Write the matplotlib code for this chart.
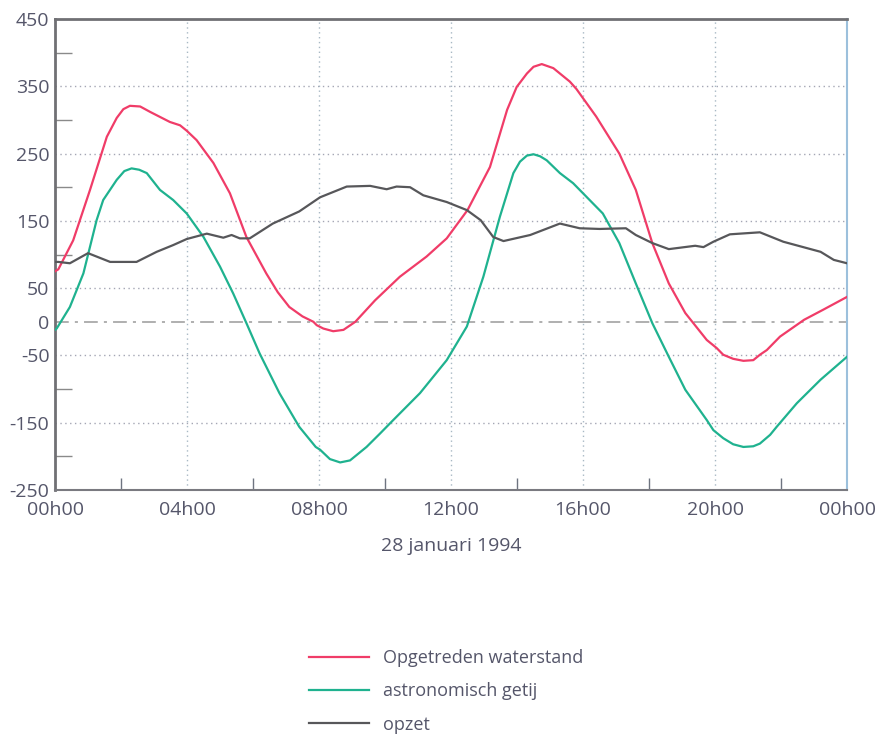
import numpy as np
import matplotlib.pyplot as plt
from matplotlib.lines import Line2D
from matplotlib.ticker import FixedLocator

plt.rcParams['font.family'] = ['Open Sans', 'DejaVu Sans']
plt.rcParams['axes.unicode_minus'] = False

# uren na middernacht, 28 januari 1994
uur_waterstand = [0.0, 0.1, 0.55, 1.06, 1.57, 1.87, 2.07, 2.27, 2.58, 2.88, 3.08, 3.48, 3.79,
                  3.99, 4.29, 4.8, 5.3, 5.8, 6.4, 6.75, 7.1, 7.5, 7.83, 7.93, 8.13, 8.43, 8.74,
                  9.1, 9.7, 10.45, 11.26, 11.87, 12.5, 13.18, 13.7, 13.99, 14.3, 14.5, 14.75,
                  15.1, 15.3, 15.6, 15.8, 16.4, 17.1, 17.6, 18.1, 18.6, 19.1, 19.75, 20.05,
                  20.25, 20.55, 20.86, 21.16, 21.36, 21.57, 21.97, 22.7, 23.28, 24.0]
waterstand = [75, 78, 121, 196, 275, 303, 316, 321, 320, 312, 307, 297, 292,
              284, 270, 236, 191, 126, 72, 44, 22, 8, 0, -5, -10, -14, -12,
              0, 32, 67, 97, 124, 166, 230, 315, 349, 369, 379, 383,
              377, 369, 357, 346, 305, 250, 196, 117, 57, 13, -27, -39,
              -49, -55, -58, -57, -49, -42, -22, 3, 18, 37]

uur_getij = [0.0, 0.05, 0.45, 0.86, 1.26, 1.46, 1.87, 2.1, 2.32, 2.55, 2.78, 3.18, 3.58,
             3.99, 4.5, 5.0, 5.4, 5.8, 6.2, 6.8, 7.4, 7.9, 8.03, 8.33, 8.64, 8.94, 9.44,
             9.85, 10.25, 11.06, 11.87, 12.48, 12.98, 13.48, 13.89, 14.09, 14.3, 14.5,
             14.7, 14.9, 15.3, 15.7, 16.6, 17.1, 17.6, 18.1, 18.6, 19.1, 19.75, 19.95,
             20.25, 20.55, 20.86, 21.16, 21.36, 21.67, 21.87, 22.48, 23.2, 24.0]
getij = [-12, -10, 22, 72, 151, 181, 211, 224, 228, 226, 221, 196, 181,
         161, 126, 82, 42, -2, -47, -106, -156, -186, -190, -204, -209, -206, -186,
         -166, -146, -106, -57, -7, 67, 156, 221, 238, 247, 249,
         246, 240, 221, 206, 161, 117, 57, -2, -52, -101, -146, -161,
         -173, -182, -186, -185, -181, -168, -156, -121, -86, -52]

uur_opzet = [0.0, 0.1, 0.45, 1.0, 1.67, 2.47, 3.08, 3.58, 3.99, 4.6, 5.1, 5.35, 5.6, 5.9,
             6.6, 7.4, 8.03, 8.84, 9.55, 10.05, 10.35, 10.76, 11.16, 11.87, 12.48, 12.9,
             13.28, 13.59, 14.4, 15.3, 15.9, 16.5, 17.3, 17.6, 18.1, 18.6, 19.4, 19.65,
             19.95, 20.45, 21.36, 22.07, 23.2, 23.6, 24.0]
opzet = [89, 89, 87, 102, 89, 89, 104, 114, 123, 131, 125, 129, 124, 124,
         146, 164, 185, 201, 202, 197, 201, 200, 188, 178, 166, 151,
         126, 120, 129, 146, 139, 138, 139, 129, 117, 108, 113, 111,
         119, 130, 133, 119, 104, 92, 87]

xtick_pos = [0, 4, 8, 12, 16, 20, 24]
xtick_labels = ['00h00', '04h00', '08h00', '12h00', '16h00', '20h00', '00h00']
ytick_pos = [-250, -150, -50, 0, 50, 150, 250, 350, 450]
ytick_minor = [-200, -100, 100, 200, 300, 400]

kleur_tekst = '#55566a'
kleur_rood = '#f03c68'
kleur_groen = '#1fb28f'
kleur_grijs = '#57575a'

fig = plt.figure(figsize=(8.79, 7.34), dpi=100)
ax = fig.add_axes([0.0626, 0.3324, 0.901, 0.6417])

# stippellijnen als raster
for y in [350, 250, 150, 50, -50, -150]:
    ax.axhline(y, color='#a4a6b4', lw=1.0, ls=(0, (1, 2.5)), zorder=1)
for x in [4, 8, 12, 16, 20]:
    ax.axvline(x, color='#a8b8c4', lw=1.0, ls=(0, (1, 2.5)), zorder=1)
ax.axhline(0, color='#9a9a9a', lw=1.1, ls=(0, (9, 4, 2, 4)), zorder=1)

ax.plot(uur_waterstand, waterstand, color=kleur_rood, lw=1.6, zorder=3)
ax.plot(uur_getij, getij, color=kleur_groen, lw=1.6, zorder=3)
ax.plot(uur_opzet, opzet, color=kleur_grijs, lw=1.6, zorder=3)

ax.set_xlim(0, 24)
ax.set_ylim(-250, 450)

ax.set_xticks(xtick_pos)
ax.set_xticklabels(xtick_labels)
ax.xaxis.set_minor_locator(FixedLocator([2, 6, 10, 14, 18, 22]))
ax.set_yticks(ytick_pos)
ax.yaxis.set_minor_locator(FixedLocator(ytick_minor))

ax.tick_params(axis='both', which='major', length=0, labelsize=14, colors=kleur_tekst)
ax.tick_params(axis='x', which='major', pad=8)
ax.tick_params(axis='y', which='major', pad=4)
ax.tick_params(axis='x', which='minor', direction='in', length=9, width=1.0, color='#6e7480')
ax.tick_params(axis='y', which='minor', direction='in', length=12, width=1.0, color='#8a8a8a')

for kant in ['left', 'top']:
    ax.spines[kant].set_color('#707074')
    ax.spines[kant].set_linewidth(2.0)
ax.spines['bottom'].set_color('#7a7a80')
ax.spines['bottom'].set_linewidth(1.5)
ax.spines['right'].set_color('#9cc0dc')
ax.spines['right'].set_linewidth(1.5)

ax.set_xlabel('28 januari 1994', fontsize=14, color=kleur_tekst, labelpad=13)

handles = [Line2D([], [], color=kleur_rood, lw=1.6),
           Line2D([], [], color=kleur_groen, lw=1.6),
           Line2D([], [], color=kleur_grijs, lw=1.6)]
labels = ['Opgetreden waterstand', 'astronomisch getij', 'opzet']
fig.legend(handles, labels, loc='upper left', bbox_to_anchor=(0.352, 0.116),
           frameon=False, fontsize=13, labelcolor=kleur_tekst, handlelength=3.3,
           handletextpad=0.8, labelspacing=0.85, borderpad=0, borderaxespad=0)

fig.savefig('out.png', dpi=100)
